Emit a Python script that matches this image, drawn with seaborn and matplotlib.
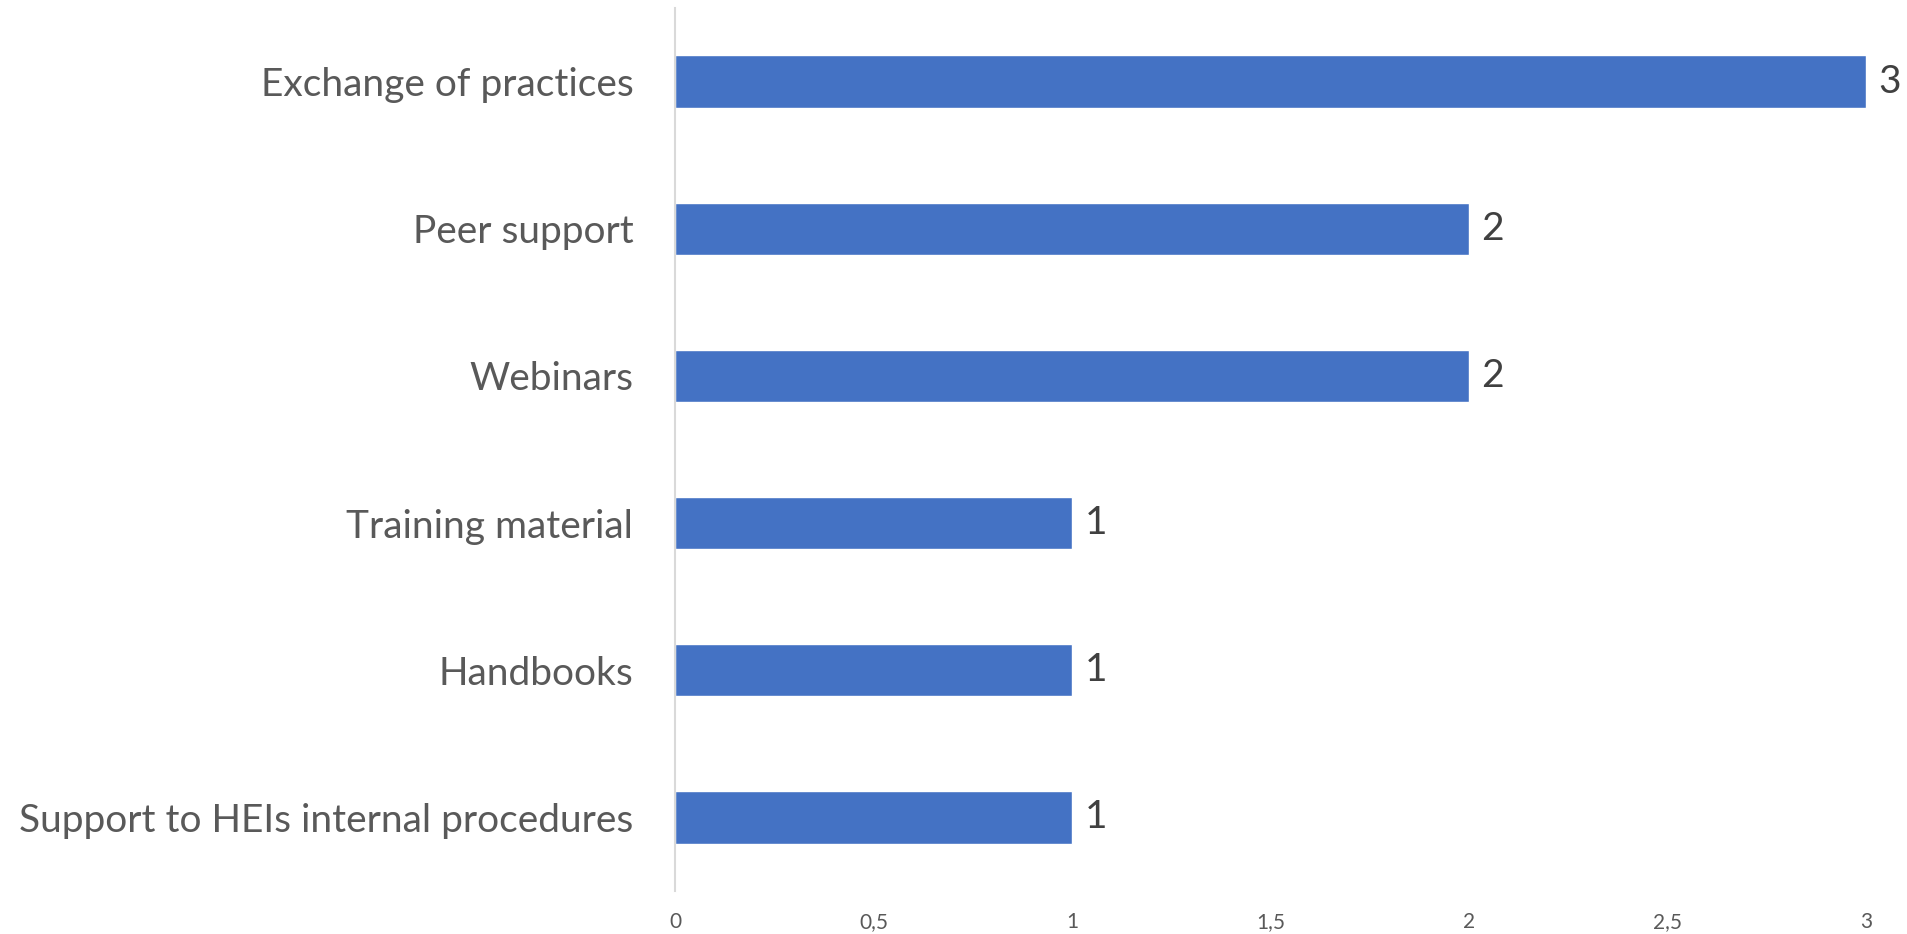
import matplotlib
matplotlib.use("Agg")
import matplotlib.pyplot as plt
import seaborn as sns
import pandas as pd

categories = ["Exchange of practices", "Peer support", "Webinars",
              "Training material", "Handbooks", "Support to HEIs internal procedures"]
values = [3, 2, 2, 1, 1, 1]
xticks = [0, 0.5, 1, 1.5, 2, 2.5, 3]
xtick_labels = ["0", "0,5", "1", "1,5", "2", "2,5", "3"]

sns.set_theme(style="white")
plt.rcParams['font.family'] = ['Lato', 'DejaVu Sans']

df = pd.DataFrame({"cat": categories, "val": values})
fig = plt.figure(figsize=(19.08, 9.34), dpi=100)
ax = fig.add_axes([675/1908, 1 - 891/934, (1866-675)/1908, (891-8)/934])
sns.barplot(data=df, x="val", y="cat", color="#4472C4", saturation=1, width=0.355, ax=ax, orient="h")

ax.set_xlim(0, 3)
ax.set_ylim(5.5, -0.5)
ax.set_xticks(xticks)
ax.set_xticklabels(xtick_labels, fontsize=15, color="#595959")
ax.tick_params(axis="x", length=0, pad=15)
ax.tick_params(axis="y", length=0, pad=30, labelsize=28, labelcolor="#595959")
ax.set_xlabel("")
ax.set_ylabel("")
for s in ["top", "right", "bottom"]:
    ax.spines[s].set_visible(False)
ax.spines["left"].set_color("#D9D9D9")
ax.spines["left"].set_linewidth(1.5)

for cont in ax.containers:
    ax.bar_label(cont, labels=[str(v) for v in values], padding=9, fontsize=28, color="#404040")

fig.savefig("out.png", dpi=100)
